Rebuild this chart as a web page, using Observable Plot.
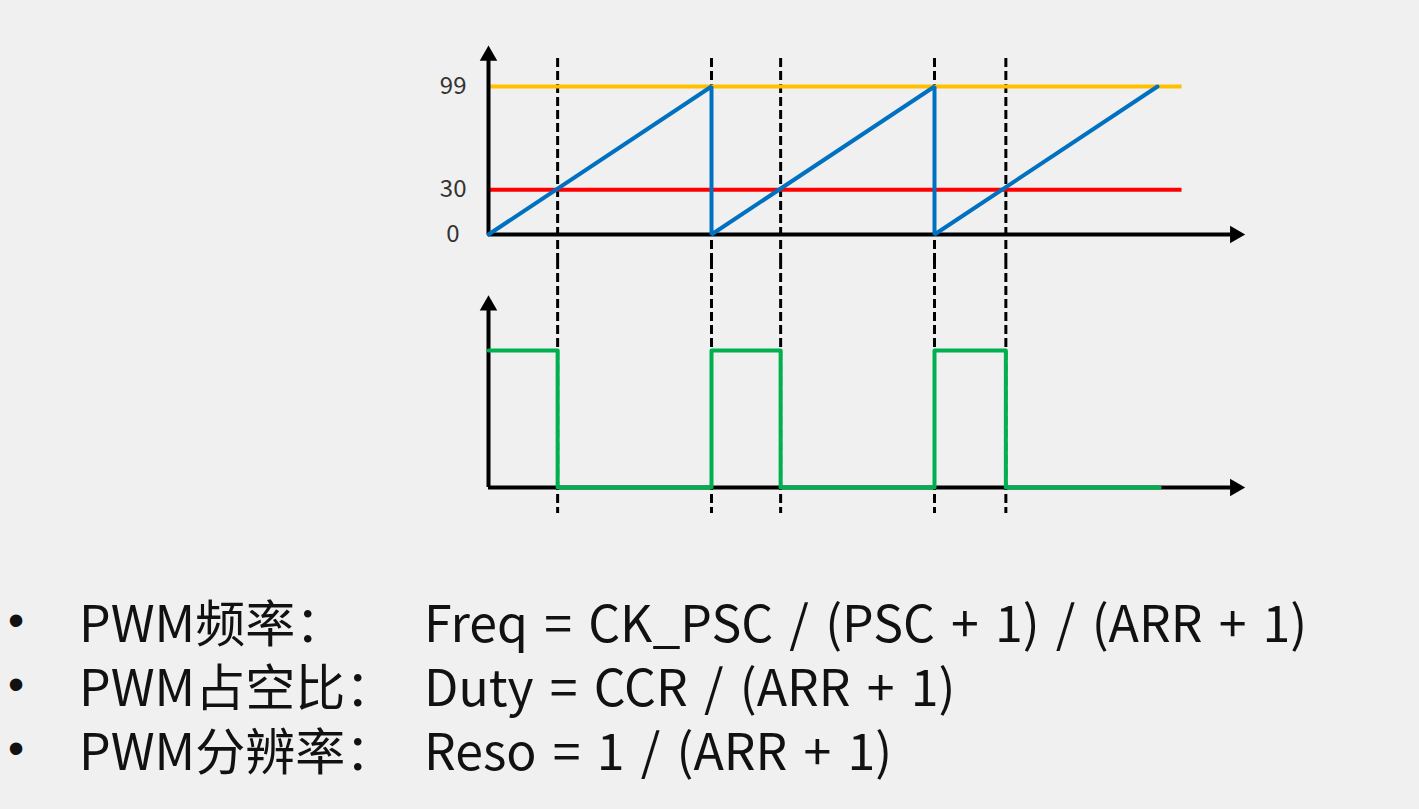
<!DOCTYPE html>
<html>
<head>
<meta charset="utf-8">
<script src="https://cdn.jsdelivr.net/npm/d3@7"></script>
<script src="https://cdn.jsdelivr.net/npm/@observablehq/plot@0.6"></script>
<style>
  html, body { margin: 0; padding: 0; background: #f0f0f0; width: 1419px; height: 809px; overflow: hidden; }
  #wrap { position: relative; width: 1419px; height: 809px; font-family: "Noto Sans CJK SC", "Noto Sans", sans-serif; }
  #top, #bottom { position: absolute; left: 0; }
  #top { top: 0; }
  #bottom { top: 260px; }
  .row { position: absolute; left: 0; height: 64px; line-height: 64px; font-size: 50px; color: #111; white-space: pre; }
  .row span { position: absolute; top: 0; }
  .b { left: 8px; font-family: "Liberation Sans", Arial, sans-serif; font-size: 46px; }
  .l { left: 79px; }
  .f { left: 424px; word-spacing: 5px; }
</style>
</head>
<body>
<div id="wrap">
  <div id="top"></div>
  <div id="bottom"></div>
</div>
<script>
// ---- data ----
// time axis in counter ticks (one period = 100 ticks)
const sawTimes   = [0, 100, 100, 200, 200, 300];
const sawCounts  = [0, 99, 0, 99, 0, 99];
const arrValue   = 99;   // ARR (yellow line)
const ccrValue   = 30;   // CCR (red line)
const compareEnd = 311;  // end of the ARR / CCR lines
const edgeTimes  = [31, 100, 131, 200, 232];      // dashed edges
const pwmTimes   = [0, 31, 100, 131, 200, 232, 301];
const pwmLevels  = [1, 0, 1, 0, 1, 0, 0];
const tickValues = [99, 30, 0];
const tickLabels = ["99", "30", "0"];

const bullets = [
  ["PWM频率：", "Freq = CK_PSC / (PSC + 1) / (ARR + 1)"],
  ["PWM占空比：", "Duty = CCR / (ARR + 1)"],
  ["PWM分辨率：", "Reso = 1 / (ARR + 1)"]
];

// ---- shared layout ----
const W = 1419;
const xScale = {domain: [0, 340], range: [488, 488 + 2.23 * 340]};
const xArrow = 333;
const font = '"Noto Sans CJK SC", "Noto Sans", sans-serif';
const svgStyle = "background: transparent; overflow: visible; font-family: " + font + ";";
const arrowR = 6.5;

const saw = sawTimes.map((t, i) => ({t, v: sawCounts[i]}));
const pwm = pwmTimes.map((t, i) => ({t, v: pwmLevels[i]}));
const ticks = tickValues.map((v, i) => ({v, label: tickLabels[i]}));

// ---- top chart: counter vs compare ----
const topPlot = Plot.plot({
  width: W, height: 260,
  marginTop: 58, marginBottom: 0, marginLeft: 0, marginRight: 0,
  style: svgStyle,
  x: {...xScale, axis: null},
  y: {domain: [0, 99], range: [234, 86], axis: null},
  marks: [
    Plot.ruleX(edgeTimes, {x: d => d, stroke: "#000", strokeWidth: 3, strokeDasharray: "9,4"}),
    Plot.ruleY([arrValue], {x1: 0, x2: compareEnd, stroke: "#FFC000", strokeWidth: 4}),
    Plot.ruleY([ccrValue], {x1: 0, x2: compareEnd, stroke: "#FF0000", strokeWidth: 4}),
    Plot.ruleX([0], {y1: 0, y2: 117, stroke: "#000", strokeWidth: 4}),
    Plot.ruleY([0], {x1: 0, x2: xArrow, stroke: "#000", strokeWidth: 4}),
    Plot.dot([0], {x: 0, y: 117, dy: -4, symbol: "triangle", r: arrowR, fill: "#000", stroke: null}),
    Plot.dot([0], {x: xArrow, y: 0, dx: 4, symbol: "triangle", rotate: 90, r: arrowR, fill: "#000", stroke: null}),
    Plot.line(saw, {x: "t", y: "v", stroke: "#0070C0", strokeWidth: 4, strokeLinejoin: "miter"}),
    Plot.text(ticks.filter(d => d.v !== 0), {x: 0, y: "v", text: "label", textAnchor: "end", dx: -22, fontSize: 24, fill: "#333"}),
    Plot.text(ticks.filter(d => d.v === 0), {x: 0, y: "v", text: "label", textAnchor: "end", dx: -29, fontSize: 24, fill: "#333"})
  ]
});
document.getElementById("top").appendChild(topPlot);

// ---- bottom chart: PWM output ----
const bottomPlot = Plot.plot({
  width: W, height: 280,
  marginTop: 0, marginBottom: 27, marginLeft: 0, marginRight: 0,
  style: svgStyle,
  x: {...xScale, axis: null},
  y: {domain: [0, 1], range: [227, 90], axis: null},
  marks: [
    Plot.ruleX(edgeTimes, {x: d => d, stroke: "#000", strokeWidth: 3, strokeDasharray: "9,4"}),
    Plot.ruleX([0], {y1: 0, y2: 1.3, stroke: "#000", strokeWidth: 4}),
    Plot.ruleY([0], {x1: 0, x2: xArrow, stroke: "#000", strokeWidth: 4}),
    Plot.dot([0], {x: 0, y: 1.3, dy: -4, symbol: "triangle", r: arrowR, fill: "#000", stroke: null}),
    Plot.dot([0], {x: xArrow, y: 0, dx: 4, symbol: "triangle", rotate: 90, r: arrowR, fill: "#000", stroke: null}),
    Plot.line(pwm, {x: "t", y: "v", curve: "step-after", stroke: "#00B050", strokeWidth: 4})
  ]
});
document.getElementById("bottom").appendChild(bottomPlot);

// ---- formulas ----
const wrap = document.getElementById("wrap");
bullets.forEach((b, i) => {
  const row = document.createElement("div");
  row.className = "row";
  row.style.top = (588 + i * 64) + "px";
  row.style.width = W + "px";
  row.innerHTML = '<span class="b">•</span><span class="l"></span><span class="f"></span>';
  row.querySelector(".l").textContent = b[0];
  row.querySelector(".f").textContent = b[1];
  wrap.appendChild(row);
});
</script>
</body>
</html>
